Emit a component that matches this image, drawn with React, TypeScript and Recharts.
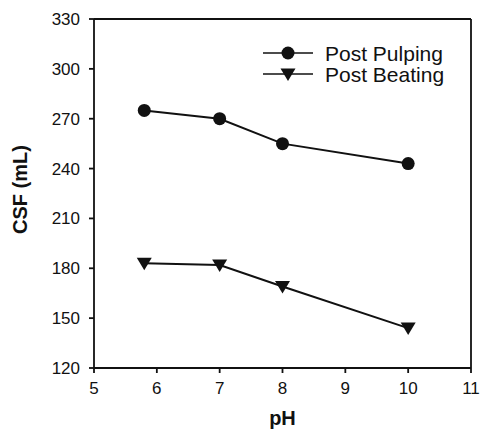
import React from "react";
import {
  LineChart,
  Line,
  XAxis,
  YAxis,
  ReferenceLine,
} from "recharts";

// pH values and freeness readings (CSF, mL)
const phPulping = [5.8, 7, 8, 10];
const csfPulping = [275, 270, 255, 243];
const phBeating = [5.8, 7, 8, 10];
const csfBeating = [183, 182, 169, 144];

const xTicks = [5, 6, 7, 8, 9, 10, 11];
const yTicks = [120, 150, 180, 210, 240, 270, 300, 330];

const pulpingData = phPulping.map((ph, i) => ({ ph, csf: csfPulping[i] }));
const beatingData = phBeating.map((ph, i) => ({ ph, csf: csfBeating[i] }));

const FONT = "Arial, 'Liberation Sans', Helvetica, sans-serif";
const INK = "#111";

const CircleDot = (props: any) => {
  const { cx, cy } = props;
  if (cx == null || cy == null) return null;
  return <circle cx={cx} cy={cy} r={6.5} fill={INK} stroke="none" />;
};

const TriangleDot = (props: any) => {
  const { cx, cy } = props;
  if (cx == null || cy == null) return null;
  return (
    <path
      d={`M${cx - 7.5},${cy - 5.5} L${cx + 7.5},${cy - 5.5} L${cx},${cy + 7} Z`}
      fill={INK}
    />
  );
};

// legend drawn as an overlay inside the plot box
const LegendBox = () => {
  const rows = [
    { label: "Post Pulping", shape: "circle" },
    { label: "Post Beating", shape: "triangle" },
  ];
  return (
    <svg
      width={210}
      height={60}
      style={{ position: "absolute", left: 263, top: 43, overflow: "visible" }}
    >
      {rows.map((r, i) => {
        const y = 10 + i * 21;
        return (
          <g key={r.label}>
            <line x1={0} x2={50} y1={y} y2={y} stroke={INK} strokeWidth={1.5} />
            {r.shape === "circle" ? (
              <circle cx={25} cy={y} r={6.5} fill={INK} />
            ) : (
              <path
                d={`M${17.5},${y - 5.5} L${32.5},${y - 5.5} L${25},${y + 7} Z`}
                fill={INK}
              />
            )}
            <text
              x={62}
              y={y}
              dominantBaseline="central"
              fontSize={21}
              fontFamily={FONT}
              fill={INK}
            >
              {r.label}
            </text>
          </g>
        );
      })}
    </svg>
  );
};

export default function App() {
  return (
    <div style={{ position: "absolute", left: 0, top: 0, background: "#fff" }}>
      <LineChart
        width={482}
        height={430}
        margin={{ top: 19, right: 11, left: 0, bottom: 0 }}
      >
        <XAxis
          type="number"
          dataKey="ph"
          domain={[5, 11]}
          ticks={xTicks}
          allowDuplicatedCategory={false}
          height={62}
          stroke={INK}
          strokeWidth={1.8}
          tickSize={5}
          tickMargin={9}
          tick={{ fontSize: 17, fill: INK, fontFamily: FONT }}
          label={{
            value: "pH",
            position: "insideBottom",
            offset: 5,
            fontSize: 20,
            fontWeight: 600,
            fill: INK,
            fontFamily: FONT,
          }}
        />
        <YAxis
          type="number"
          dataKey="csf"
          domain={[120, 330]}
          ticks={yTicks}
          width={94}
          stroke={INK}
          strokeWidth={1.8}
          tickSize={5}
          tickMargin={9}
          tick={{ fontSize: 17, fill: INK, fontFamily: FONT }}
          label={{
            value: "CSF (mL)",
            angle: -90,
            position: "insideLeft",
            offset: 20,
            dy: -4,
            style: { textAnchor: "middle" },
            fontSize: 20,
            fontWeight: 600,
            fill: INK,
            fontFamily: FONT,
          }}
        />
        <ReferenceLine y={330} stroke={INK} strokeWidth={1.8} />
        <ReferenceLine x={11} stroke={INK} strokeWidth={1.8} />
        <Line
          data={pulpingData}
          dataKey="csf"
          name="Post Pulping"
          stroke={INK}
          strokeWidth={2}
          dot={<CircleDot />}
          activeDot={false}
          isAnimationActive={false}
        />
        <Line
          data={beatingData}
          dataKey="csf"
          name="Post Beating"
          stroke={INK}
          strokeWidth={2}
          dot={<TriangleDot />}
          activeDot={false}
          isAnimationActive={false}
        />
      </LineChart>
      <LegendBox />
    </div>
  );
}
